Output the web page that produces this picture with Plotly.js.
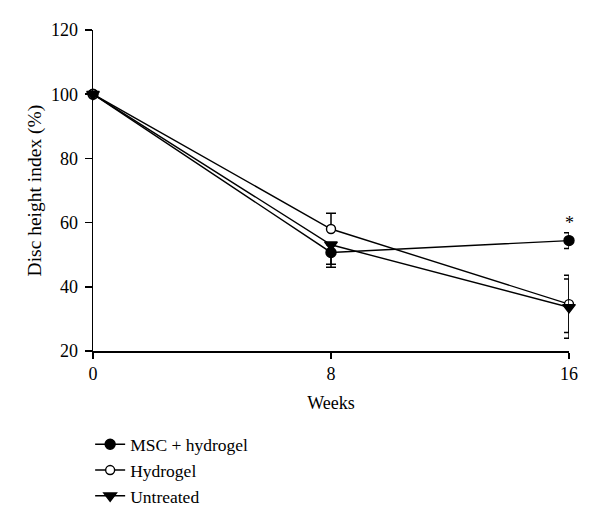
<!DOCTYPE html>
<html>
<head>
<meta charset="utf-8">
<script src="https://cdn.plot.ly/plotly-3.0.1.min.js"></script>
<style>html,body{margin:0;padding:0;background:#fff;}#chart{width:600px;height:527px;}</style>
</head>
<body>
<div id="chart"></div>
<script>
const weeks = [0, 8, 16];
const seriesNames = ["MSC + hydrogel", "Hydrogel", "Untreated"];
const mscValues = [100, 50.7, 54.4];
const mscErrPlus = [0, 0, 2.4];
const mscErrMinus = [0, 3.7, 2.5];
const hydrogelValues = [100, 58.0, 34.6];
const hydrogelErrPlus = [0, 4.9, 9.0];
const hydrogelErrMinus = [0, 0, 8.8];
const untreatedValues = [100, 53.1, 33.6];
const untreatedErrPlus = [0, 0, 8.8];
const untreatedErrMinus = [0, 7.0, 9.6];
const xTicks = [0, 8, 16];
const yTicks = [20, 40, 60, 80, 100, 120];
const significance = {x: 16, y: 59.8, text: "*"};

const FONT = "Liberation Serif, Times New Roman, serif";

function mkTrace(name, y, ep, em, symbol, fill, size) {
  return {
    x: weeks, y: y, name: name, type: "scatter", mode: "lines+markers",
    cliponaxis: false,
    line: {color: "#000", width: 1.4},
    marker: {symbol: symbol, size: size, color: fill, line: {color: "#000", width: 1.4}},
    error_y: {type: "data", symmetric: false, array: ep, arrayminus: em,
              color: "#000", thickness: 1.5, width: 5}
  };
}

const data = [
  mkTrace(seriesNames[0], mscValues, mscErrPlus, mscErrMinus, "circle", "#000", 10),
  mkTrace(seriesNames[1], hydrogelValues, hydrogelErrPlus, hydrogelErrMinus, "circle", "#fff", 9),
  mkTrace(seriesNames[2], untreatedValues, untreatedErrPlus, untreatedErrMinus, "triangle-down", "#000", 11)
];

const layout = {
  width: 600, height: 527,
  margin: {l: 93, r: 31, t: 30, b: 171},
  paper_bgcolor: "#fff", plot_bgcolor: "#fff",
  font: {family: FONT, size: 18, color: "#000"},
  showlegend: true,
  legend: {x: -0.006, xanchor: "left", y: -0.235, yanchor: "top",
           font: {family: FONT, size: 17.5, color: "#000"},
           bgcolor: "rgba(0,0,0,0)", tracegroupgap: 0, itemwidth: 30},
  xaxis: {range: [0, 16], tickvals: xTicks, ticktext: xTicks.map(String),
          showgrid: false, zeroline: false, showline: true, linecolor: "#000", linewidth: 1.5,
          ticks: "outside", ticklen: 6, tickwidth: 1.5, tickcolor: "#000",
          tickfont: {family: FONT, size: 18},
          title: {text: "Weeks", font: {family: FONT, size: 18}, standoff: 13}},
  yaxis: {range: [20, 120], tickvals: yTicks, ticktext: yTicks.map(String),
          showgrid: false, zeroline: false, showline: true, linecolor: "#000", linewidth: 1.5,
          ticks: "outside", ticklen: 7, tickwidth: 1.5, tickcolor: "#000",
          ticklabelstandoff: 3,
          tickfont: {family: FONT, size: 18}},
  annotations: [
    {xref: "paper", yref: "paper", x: -0.122, xanchor: "center", y: 0.5, yanchor: "middle",
     text: "Disc height index (%)",
     textangle: -90, showarrow: false, font: {family: FONT, size: 19.5}},
    {x: significance.x, y: significance.y, text: significance.text, showarrow: false,
     font: {family: FONT, size: 18}}
  ]
};

Plotly.newPlot("chart", data, layout, {displayModeBar: false, staticPlot: true});
</script>
</body>
</html>
